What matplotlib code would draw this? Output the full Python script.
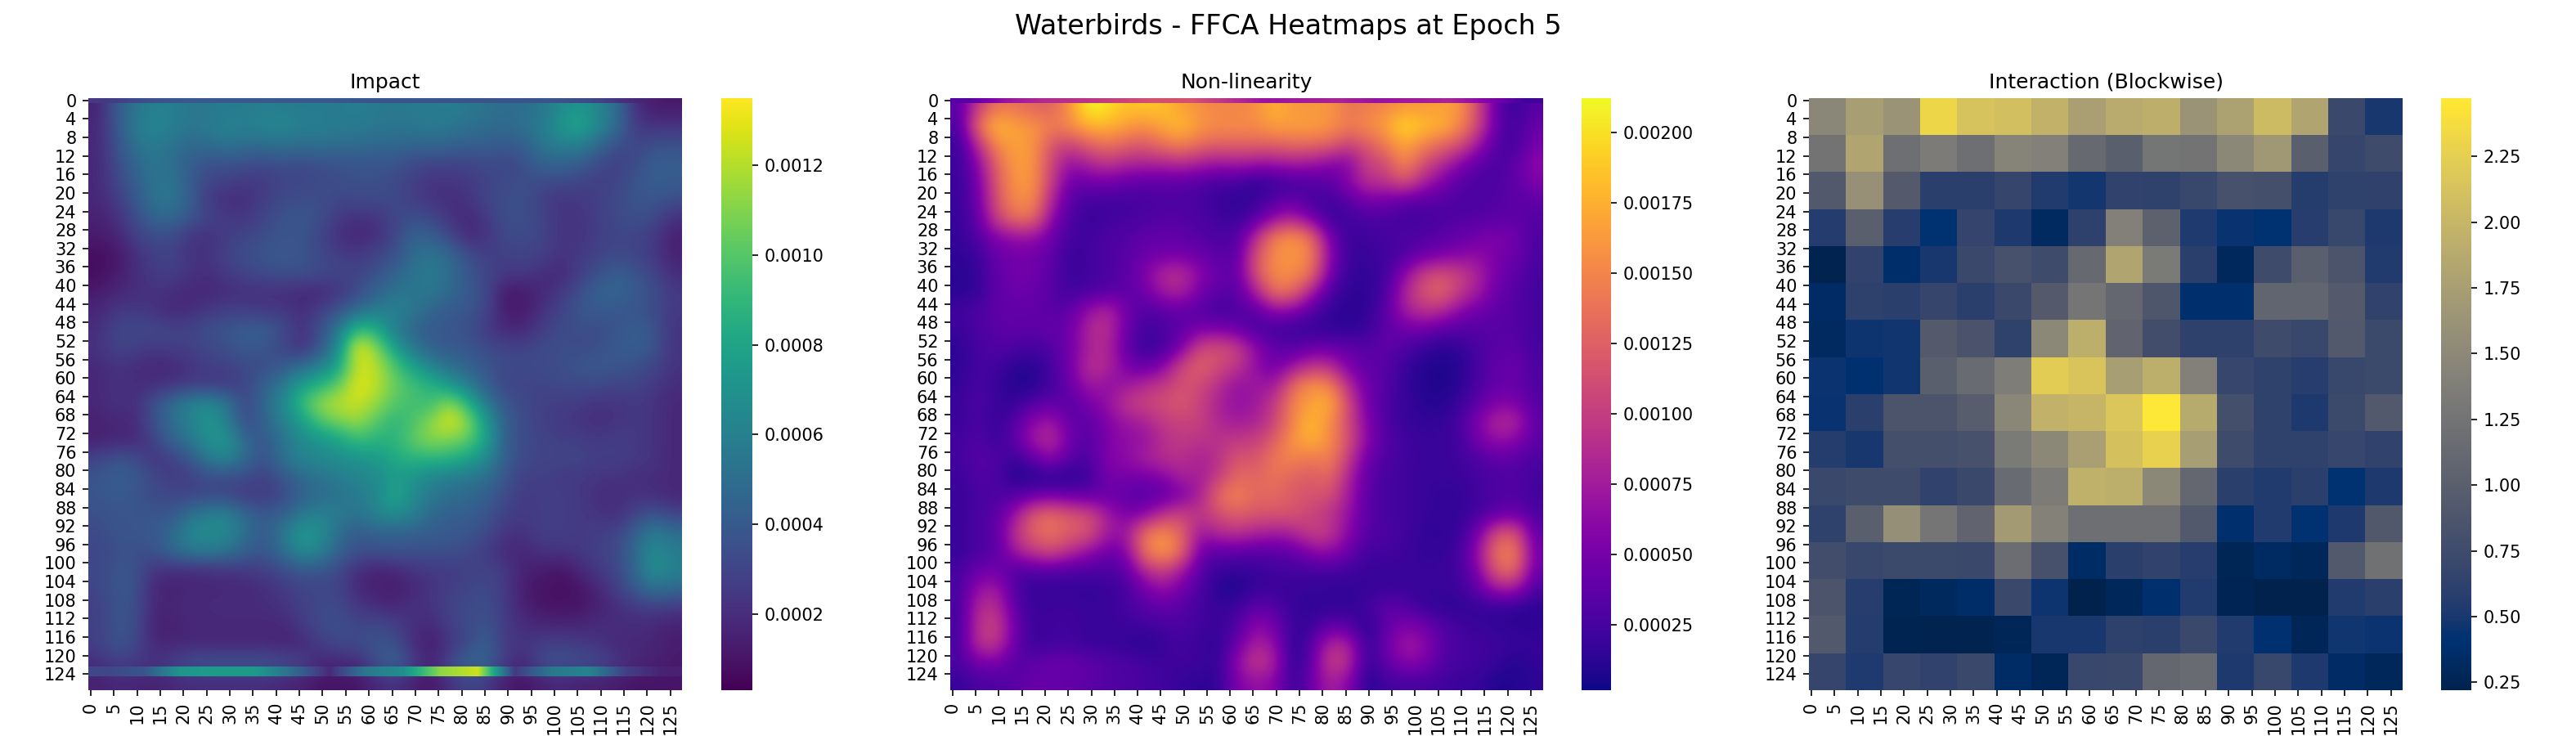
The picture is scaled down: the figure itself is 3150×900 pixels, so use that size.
import numpy as np
import matplotlib
matplotlib.use("Agg")
import matplotlib.pyplot as plt

SUPTITLE = "Waterbirds - FFCA Heatmaps at Epoch 5"
TITLES = ["Impact", "Non-linearity", "Interaction (Blockwise)"]
CMAPS = ["viridis", "plasma", "cividis"]
GRID_SIZE = 128

# impact, one row for every 4 pixels
IMPACT_UNIT = 1.25e-5
impact = [
    [12,32,42,48,48,44,44,46,46,48,46,46,46,46,48,46,44,46,46,48,44,42,40,40,44,52,58,50,40,16,10,10],
    [14,30,46,52,48,44,46,50,48,50,52,48,48,46,46,44,44,44,46,44,42,40,38,42,46,58,66,52,40,20,18,18],
    [14,28,42,46,42,38,40,42,40,40,42,40,42,40,40,38,38,36,38,36,34,34,32,34,44,48,48,38,28,24,28,28],
    [14,26,36,44,40,34,28,30,28,26,28,26,28,28,30,30,30,26,24,24,24,26,24,28,36,36,34,26,22,26,34,34],
    [14,24,34,42,44,32,24,22,20,20,24,24,26,28,28,28,26,22,18,18,20,24,26,28,26,26,24,22,24,30,34,32],
    [14,20,30,42,44,34,20,16,16,22,26,28,28,24,26,26,26,22,18,16,18,24,28,28,22,18,20,22,26,30,30,28],
    [12,16,26,36,38,30,24,20,20,24,30,30,28,20,16,18,24,28,26,18,14,20,28,28,24,18,18,22,26,28,26,16],
    [10,12,22,26,26,18,16,22,24,28,30,30,24,16,14,16,24,36,34,26,14,18,26,26,24,18,18,22,24,24,20,12],
    [6,8,16,22,24,18,18,24,28,30,32,30,26,22,20,24,28,40,44,38,28,22,22,24,22,18,20,24,26,24,20,12],
    [6,10,16,20,22,18,16,20,24,26,28,28,26,24,24,28,36,42,46,40,30,24,20,20,16,14,22,28,34,30,24,16],
    [10,14,16,18,16,14,14,16,16,16,16,14,14,18,26,36,42,44,44,38,32,26,8,10,14,20,28,36,38,32,28,20],
    [14,20,20,18,14,16,20,22,22,20,20,16,22,30,40,46,50,44,36,32,30,24,10,10,18,24,30,32,30,30,26,20],
    [16,24,26,26,24,24,28,30,34,34,28,16,28,44,74,68,46,36,32,30,28,20,14,14,22,26,28,26,30,34,30,18],
    [18,24,22,20,22,22,26,28,32,30,24,16,30,52,108,90,62,44,34,32,30,26,24,24,26,28,26,28,32,34,30,18],
    [14,18,16,14,14,18,22,22,26,26,33,40,48,64,100,98,80,62,50,40,36,30,26,26,26,28,30,32,30,28,24,18],
    [14,18,16,16,18,20,20,20,24,36,44,62,70,82,105,98,84,76,70,58,46,33,24,24,24,26,26,26,24,24,20,16],
    [14,18,16,28,40,50,54,44,24,38,52,74,92,98,100,92,80,76,74,92,70,44,30,26,22,22,20,18,18,20,18,14],
    [12,14,14,28,40,48,58,48,24,36,48,60,78,86,92,80,70,78,90,105,90,58,33,26,22,20,18,16,18,20,18,14],
    [12,14,14,22,36,44,56,58,38,30,42,52,56,62,74,70,70,82,90,86,82,62,33,26,24,22,22,20,22,20,18,14],
    [24,30,28,18,22,30,46,50,38,28,42,50,52,54,56,58,66,70,70,70,62,52,32,26,24,24,24,22,22,20,18,14],
    [30,34,32,26,20,22,26,26,26,22,30,38,42,46,50,52,60,56,50,46,44,40,30,22,22,20,20,18,18,16,16,14],
    [30,32,30,26,26,24,26,24,20,20,25,35,38,42,46,50,66,54,44,40,38,34,26,20,22,22,20,16,16,18,16,14],
    [28,30,30,30,30,42,48,50,38,32,35,44,50,46,42,50,54,48,38,34,34,30,22,20,22,22,20,18,16,24,30,24],
    [26,30,30,32,38,52,54,52,40,32,44,60,54,40,32,35,35,35,33,32,30,26,18,18,22,22,20,22,24,35,48,40],
    [24,28,28,28,38,44,46,42,34,30,40,54,50,35,28,28,30,28,28,28,26,20,14,14,18,18,20,22,26,38,54,46],
    [25,30,30,18,16,15,16,18,20,22,26,30,30,26,16,12,14,18,20,20,22,24,20,12,10,8,14,20,24,38,56,48],
    [24,30,30,14,12,14,14,14,14,16,20,24,24,24,14,12,10,14,18,22,24,26,20,10,8,6,8,14,22,32,42,38],
    [22,30,28,14,14,15,15,16,16,16,18,22,26,26,20,16,14,18,18,24,26,28,20,12,8,8,8,12,16,20,22,20],
    [22,30,28,12,12,14,14,14,14,14,14,20,26,28,24,26,24,16,14,22,26,30,20,16,14,14,14,16,16,16,14,12],
    [22,30,26,14,14,14,14,14,14,14,12,14,20,26,26,30,28,16,10,18,26,34,20,18,22,22,20,18,14,14,14,10],
    [16,22,20,18,22,28,30,30,30,30,28,24,14,14,14,28,38,22,12,26,38,36,20,14,28,30,28,26,20,14,12,10],
    [12,14,14,12,14,16,16,16,16,16,14,12,8,8,8,14,18,12,8,18,24,20,10,8,12,14,12,12,10,8,8,8],
]
# thin line across the foot of the impact map, one value for every 8 pixels
impact_line = [25,30,58,60,60,40,15,45,55,90,100,20,45,50,22,12]
impact_top = [20,28,32,32,32,32,32,30,30,30,30,30,30,26,16,10]

# non-linearity, one row for every 4 pixels
NONLIN_UNIT = 1.15e-5
nonlinearity = [
    [30,85,120,120,110,110,140,185,175,160,165,160,145,135,130,130,135,155,140,140,140,120,125,130,140,140,145,140,95,32,16,30],
    [22,120,160,145,140,125,135,155,155,145,135,150,160,140,135,135,135,145,145,145,140,125,135,145,175,160,155,135,95,32,20,38],
    [16,75,135,145,140,100,90,110,120,110,105,120,130,115,110,110,110,110,115,115,110,90,105,125,150,130,115,100,62,27,20,44],
    [16,52,112,145,140,90,58,72,85,72,72,72,78,68,62,68,62,62,68,62,52,48,90,95,135,100,78,52,32,25,30,55],
    [16,42,105,140,140,85,38,42,42,38,32,32,32,28,22,22,12,16,22,28,32,52,80,80,105,72,48,30,24,25,33,48],
    [16,38,100,135,135,70,28,22,20,20,22,25,25,22,16,12,16,28,33,22,20,30,45,42,33,30,28,25,25,28,30,33],
    [14,33,90,118,118,52,24,16,20,22,25,28,28,25,20,16,28,55,70,42,16,20,24,24,20,20,25,27,28,30,33,28],
    [14,28,48,58,58,38,20,20,25,28,33,35,33,28,25,25,75,130,140,120,42,16,20,22,25,27,30,35,42,48,42,25],
    [12,16,38,42,42,33,16,20,25,30,38,42,42,38,30,30,100,135,140,130,52,16,16,20,25,38,45,52,55,45,38,25],
    [10,14,35,42,42,30,16,20,25,30,48,75,80,52,38,33,100,135,135,120,42,14,14,18,52,90,100,90,70,42,33,22],
    [10,14,33,38,38,28,20,25,28,33,38,65,70,42,30,30,65,120,115,65,22,12,12,22,70,100,115,85,65,38,28,20],
    [20,25,33,35,33,30,33,60,75,42,25,30,33,28,20,25,30,52,48,28,14,10,12,28,65,80,75,52,38,33,28,22],
    [16,25,30,33,33,35,38,75,80,38,20,25,33,45,45,38,22,20,16,14,12,12,16,33,38,42,30,28,28,30,28,20],
    [12,22,28,25,20,28,42,70,75,33,16,20,45,95,100,90,55,33,28,38,38,33,30,33,27,16,10,14,25,30,33,22],
    [12,22,20,10,10,22,42,80,75,45,35,50,95,112,95,85,55,40,60,82,78,45,33,30,16,8,6,8,22,35,38,25],
    [14,25,16,8,8,22,38,65,55,62,75,85,100,95,78,55,65,60,115,140,130,75,38,28,16,8,6,10,25,35,38,25],
    [16,27,16,14,28,33,28,45,58,85,92,98,105,90,68,58,62,85,130,145,155,95,42,25,16,10,8,16,33,48,48,28],
    [16,25,14,28,55,65,33,33,48,62,68,85,90,90,72,65,70,90,130,160,135,95,48,25,16,14,14,22,48,75,75,33],
    [20,28,16,33,65,78,38,28,48,55,58,78,85,80,80,85,88,108,140,155,135,100,52,28,20,16,16,20,42,58,52,30],
    [20,30,28,14,33,55,28,25,48,55,68,78,78,68,78,105,100,125,130,120,130,85,38,25,20,16,16,20,25,33,30,25],
    [16,28,25,8,8,8,8,18,45,42,42,48,70,65,88,115,112,120,110,105,115,70,33,22,20,16,16,16,22,25,28,20],
    [16,22,25,28,38,42,38,33,38,33,28,33,45,68,118,130,112,115,105,100,100,65,30,22,20,16,14,14,20,25,28,20],
    [16,25,30,60,108,118,102,98,65,45,50,82,92,82,98,108,102,102,102,90,80,58,30,22,20,16,14,14,22,33,38,25],
    [16,25,30,80,112,118,108,102,65,60,122,135,112,60,75,80,70,65,70,90,85,52,28,25,20,14,12,16,42,100,105,33],
    [14,25,28,65,85,98,75,58,38,48,122,145,118,38,33,33,30,30,33,52,58,38,20,22,18,14,14,20,58,122,128,42],
    [22,38,42,25,28,28,25,25,25,30,75,92,65,28,16,14,16,20,22,20,22,20,16,16,16,16,16,20,48,112,118,38],
    [22,58,65,25,14,16,14,14,16,22,42,58,42,25,8,6,16,16,16,16,14,14,14,16,16,16,16,18,33,65,65,25],
    [20,75,80,30,16,18,18,16,16,22,30,35,30,20,16,18,33,28,16,12,14,12,22,33,28,16,12,12,14,14,12,10],
    [20,80,92,38,16,20,20,16,16,18,20,22,25,20,16,25,55,42,16,16,33,28,8,33,48,42,28,20,16,14,12,12],
    [20,80,85,35,16,20,20,16,16,14,8,16,22,16,12,38,70,58,8,28,75,70,12,38,65,58,30,22,20,18,16,14],
    [25,42,45,28,33,38,38,33,28,25,22,18,20,18,14,55,90,70,8,33,90,80,12,33,52,48,28,22,20,16,8,14],
    [14,25,25,30,38,35,35,30,28,25,22,20,14,12,12,48,58,52,14,38,70,52,8,20,22,22,20,16,16,6,8,12],
]
# top row of the non-linearity map, one value for every 8 pixels
nonlin_top = [30,60,75,80,90,100,100,80,60,65,70,60,65,70,50,20]

# interaction, 16 x 16 blocks
interaction = [
    [1.48,1.75,1.62,2.32,2.13,2.10,1.97,1.76,1.90,1.93,1.62,1.78,2.05,1.82,0.72,0.50],
    [1.25,1.82,1.20,1.35,1.20,1.45,1.40,1.13,1.00,1.27,1.25,1.50,1.68,1.00,0.67,0.75],
    [0.93,1.60,0.95,0.60,0.60,0.67,0.55,0.48,0.65,0.63,0.70,0.83,0.80,0.57,0.63,0.64],
    [0.56,1.00,0.58,0.42,0.66,0.52,0.32,0.62,1.40,1.03,0.53,0.44,0.42,0.58,0.70,0.52],
    [0.24,0.65,0.37,0.50,0.72,0.82,0.75,1.12,1.82,1.33,0.60,0.30,0.75,1.00,0.87,0.55],
    [0.34,0.62,0.60,0.67,0.60,0.72,0.95,1.28,1.10,0.88,0.38,0.38,1.08,1.08,0.95,0.65],
    [0.32,0.46,0.47,0.95,0.85,0.63,1.50,1.92,1.07,0.77,0.62,0.62,0.75,0.70,0.93,0.73],
    [0.45,0.40,0.47,1.00,1.15,1.38,2.23,2.15,1.75,1.92,1.40,0.68,0.63,0.58,0.70,0.73],
    [0.44,0.60,0.87,0.87,0.97,1.48,1.97,2.00,2.17,2.47,1.88,0.80,0.63,0.52,0.73,0.93],
    [0.57,0.50,0.80,0.80,0.82,1.33,1.50,1.76,2.12,2.27,1.75,0.75,0.63,0.63,0.68,0.65],
    [0.72,0.75,0.75,0.65,0.72,1.15,1.35,1.95,1.92,1.50,1.10,0.60,0.55,0.60,0.43,0.52],
    [0.63,1.00,1.58,1.28,1.07,1.70,1.42,1.20,1.20,1.20,0.93,0.38,0.55,0.42,0.52,0.92],
    [0.77,0.70,0.73,0.73,0.72,1.18,0.82,0.35,0.60,0.65,0.58,0.27,0.33,0.29,0.93,1.23],
    [0.87,0.58,0.27,0.31,0.36,0.72,0.46,0.22,0.29,0.38,0.55,0.26,0.22,0.22,0.55,0.60],
    [0.93,0.56,0.25,0.24,0.24,0.28,0.50,0.50,0.62,0.60,0.72,0.55,0.40,0.28,0.47,0.45],
    [0.67,0.53,0.68,0.65,0.72,0.35,0.28,0.70,0.72,1.10,1.15,0.52,0.70,0.52,0.34,0.29],
]

LIMITS = [(0.00003, 0.00135), (0.0000165, 0.002123), (0.22, 2.472)]
CBAR_TICKS = [
    [0.0002, 0.0004, 0.0006, 0.0008, 0.0010, 0.0012],
    [0.00025, 0.0005, 0.00075, 0.001, 0.00125, 0.0015, 0.00175, 0.002],
    [0.25, 0.5, 0.75, 1.0, 1.25, 1.5, 1.75, 2.0, 2.25],
]
CBAR_LABELS = [
    ["0.0002", "0.0004", "0.0006", "0.0008", "0.0010", "0.0012"],
    ["0.00025", "0.00050", "0.00075", "0.00100", "0.00125", "0.00150", "0.00175", "0.00200"],
    ["0.25", "0.50", "0.75", "1.00", "1.25", "1.50", "1.75", "2.00", "2.25"],
]
X_TICK_STEP = 5
Y_TICK_STEP = 4

W, H = 3150.0, 900.0
# pixel boxes (left, right) of the heatmaps and of their colour bars
HEAT_BOX = [(108, 834), (1162, 1886), (2212, 2938)]
CBAR_BOX = [(882, 920), (1934, 1970), (2985, 3022)]
TOP, BOTTOM = 120, 844

fig = plt.figure(figsize=(21, 6), dpi=150)
fig.suptitle(SUPTITLE, fontsize=16, y=0.982)

grids = [np.array(impact) * IMPACT_UNIT, np.array(nonlinearity) * NONLIN_UNIT, np.array(interaction)]
modes = ["bicubic", "bicubic", "nearest"]
# thin strips laid over a map: map index, values, y from, y to
strips = [
    (0, np.array(impact_line) * IMPACT_UNIT, 123, 125),
    (0, np.array(impact_top) * IMPACT_UNIT, 0, 1),
    (1, np.array(nonlin_top) * NONLIN_UNIT, 0, 1),
]

for i in range(3):
    l, r = HEAT_BOX[i]
    ax = fig.add_axes([l / W, 1 - BOTTOM / H, (r - l) / W, (BOTTOM - TOP) / H])
    im = ax.imshow(grids[i], cmap=CMAPS[i], vmin=LIMITS[i][0], vmax=LIMITS[i][1],
                   extent=[0, GRID_SIZE, GRID_SIZE, 0], aspect="auto",
                   interpolation=modes[i])
    for idx, vals, y0, y1 in strips:
        if idx == i:
            ax.imshow(vals[np.newaxis, :], cmap=CMAPS[i], vmin=LIMITS[i][0], vmax=LIMITS[i][1],
                      extent=[0, GRID_SIZE, y1, y0], aspect="auto", interpolation="bilinear")
    ax.set_xlim(0, GRID_SIZE)
    ax.set_ylim(GRID_SIZE, 0)
    xt = np.arange(0, GRID_SIZE, X_TICK_STEP)
    yt = np.arange(0, GRID_SIZE, Y_TICK_STEP)
    ax.set_xticks(xt + 0.5)
    ax.set_xticklabels(xt, rotation=90)
    ax.set_yticks(yt + 0.5)
    ax.set_yticklabels(yt, rotation=0)
    for s in ax.spines.values():
        s.set_visible(False)
    ax.set_title(TITLES[i], fontsize=12)

    cl, cr = CBAR_BOX[i]
    cax = fig.add_axes([cl / W, 1 - BOTTOM / H, (cr - cl) / W, (BOTTOM - TOP) / H])
    cb = fig.colorbar(im, cax=cax)
    cb.outline.set_visible(False)
    cb.set_ticks(CBAR_TICKS[i])
    cb.set_ticklabels(CBAR_LABELS[i])

fig.savefig("out.png", dpi=150)
